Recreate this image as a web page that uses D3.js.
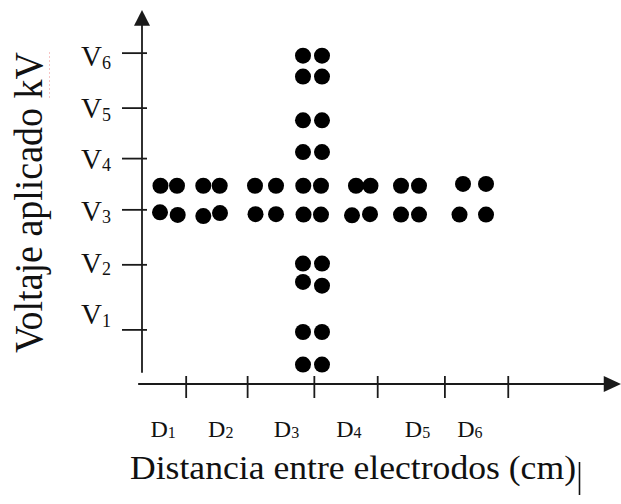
<!DOCTYPE html>
<html>
<head>
<meta charset="utf-8">
<script src="https://cdn.jsdelivr.net/npm/d3@7"></script>
<style>
  html, body { margin: 0; padding: 0; background: #fff; }
  svg { display: block; }
  text { font-family: "Liberation Serif", "Times New Roman", serif; fill: #111; }
</style>
</head>
<body>
<svg id="chart" width="621" height="504"></svg>
<script>
// Distance axis (0–100 scale units): tick marks, names and name positions
const distTicks = [9.1, 21.9, 35.8, 49.0, 63.0, 76.2];
const distLabels = ["D1", "D2", "D3", "D4", "D5", "D6"];
const distLabelPos = [4.4, 16.4, 30.1, 43.1, 57.4, 68.3];

// Voltage axis (0–100 scale units)
const voltTicks = [14.6, 32.0, 46.7, 60.4, 73.9, 88.6];
const voltLabels = ["V1", "V2", "V3", "V4", "V5", "V6"];
const voltLabelPos = [18.4, 32.1, 46.0, 59.9, 73.5, 87.4];

// Upper row of tests (just above V3), one entry per dot
const upperDist = [3.85, 7.29, 12.77, 16.19, 23.54, 27.92, 33.6, 37.29, 44.58, 47.6, 53.96, 57.71, 66.88, 71.67];
const upperVolt = [53.0, 53.0, 53.0, 53.0, 53.0, 53.0, 53.0, 53.0, 53.0, 53.0, 53.0, 53.0, 53.5, 53.5];

// Lower row of tests (at V3)
const lowerDist = [3.75, 7.44, 12.77, 16.25, 23.65, 27.92, 33.65, 37.29, 43.75, 47.5, 53.96, 57.71, 66.15, 71.67];
const lowerVolt = [45.9, 45.2, 44.9, 45.7, 45.4, 45.4, 45.3, 45.3, 45.1, 45.4, 45.3, 45.3, 45.3, 45.3];

// Column of tests at D3, swept over voltage
const columnDist = [33.54, 37.5, 33.54, 37.5, 33.54, 37.5, 33.54, 37.5, 33.54, 37.5, 33.54, 37.5, 33.54, 37.5, 33.54, 37.5];
const columnVolt = [87.8, 87.8, 82.2, 82.2, 70.5, 70.5, 62.0, 62.0, 32.2, 32.2, 27.3, 26.3, 13.9, 13.9, 5.2, 5.2];

const svg = d3.select("#chart");
const ink = "#1a1a1a";

const x = d3.scaleLinear().domain([0, 100]).range([142, 622]);
const y = d3.scaleLinear().domain([0, 100]).range([384, 10]);

// ---- vertical axis with arrow ----
svg.append("line")
  .attr("x1", x(0)).attr("x2", x(0))
  .attr("y1", y(3)).attr("y2", y(96))
  .attr("stroke", ink).attr("stroke-width", 1.8);
svg.append("path")
  .attr("d", `M${x(0)},${y(100)} L${x(0) - 8},${y(95.8)} L${x(0) + 8},${y(95.8)} Z`)
  .attr("fill", ink);

const gy = svg.append("g")
  .attr("transform", `translate(${x(0)},0)`)
  .call(d3.axisLeft(y).tickValues(voltTicks).tickSize(20).tickFormat(""));
gy.select(".domain").remove();
gy.selectAll(".tick line").attr("x1", 5).attr("stroke", ink).attr("stroke-width", 1.8);

// ---- horizontal axis with arrow ----
svg.append("line")
  .attr("x1", x(-0.8)).attr("x2", x(97))
  .attr("y1", y(0)).attr("y2", y(0))
  .attr("stroke", ink).attr("stroke-width", 1.8);
svg.append("path")
  .attr("d", `M621,${y(0)} L${x(96.2)},${y(0) - 8} L${x(96.2)},${y(0) + 8} Z`)
  .attr("fill", ink);

const gx = svg.append("g")
  .attr("transform", `translate(0,${y(0)})`)
  .call(d3.axisBottom(x).tickValues(distTicks).tickSize(14).tickFormat(""));
gx.select(".domain").remove();
gx.selectAll(".tick line").attr("y1", -8).attr("stroke", ink).attr("stroke-width", 1.8);

// ---- tick names with subscripts ----
const vText = svg.append("g").selectAll("text")
  .data(voltLabels)
  .join("text")
  .attr("x", 111)
  .attr("y", (d, i) => y(voltLabelPos[i]) + 9)
  .attr("text-anchor", "end")
  .attr("font-size", 29);
vText.append("tspan").text(d => d[0]);
vText.append("tspan").attr("font-size", 18).attr("dy", 2.5).text(d => d.slice(1));

const dText = svg.append("g").selectAll("text")
  .data(distLabels)
  .join("text")
  .attr("x", (d, i) => x(distLabelPos[i]))
  .attr("y", 437)
  .attr("text-anchor", "middle")
  .attr("font-size", 24);
dText.append("tspan").text(d => d[0]);
dText.append("tspan").attr("font-size", 16).attr("dy", 1).text(d => d.slice(1));

// ---- axis titles ----
svg.append("text")
  .attr("transform", "translate(42,202.5) rotate(-90)")
  .attr("text-anchor", "middle")
  .attr("font-size", 39)
  .attr("textLength", 301)
  .attr("lengthAdjust", "spacingAndGlyphs")
  .text("Voltaje aplicado kV");

svg.append("text")
  .attr("x", 130).attr("y", 479)
  .attr("font-size", 33)
  .attr("textLength", 446)
  .attr("lengthAdjust", "spacingAndGlyphs")
  .text("Distancia entre electrodos (cm)");

// faint proofing underline beside "kV" and the text caret after the title
svg.append("line")
  .attr("x1", 49.5).attr("x2", 49.5).attr("y1", 52).attr("y2", 100)
  .attr("stroke", "#f6c4c4").attr("stroke-width", 1).attr("stroke-dasharray", "2,2");
svg.append("line")
  .attr("x1", 579.5).attr("x2", 579.5).attr("y1", 462).attr("y2", 495)
  .attr("stroke", "#111").attr("stroke-width", 1.6);

// ---- test points ----
const points = []
  .concat(upperDist.map((d, i) => [d, upperVolt[i]]))
  .concat(lowerDist.map((d, i) => [d, lowerVolt[i]]))
  .concat(columnDist.map((d, i) => [d, columnVolt[i]]));

svg.append("g").selectAll("circle")
  .data(points)
  .join("circle")
  .attr("cx", d => x(d[0]))
  .attr("cy", d => y(d[1]))
  .attr("r", 8)
  .attr("fill", "#000");
</script>
</body>
</html>
